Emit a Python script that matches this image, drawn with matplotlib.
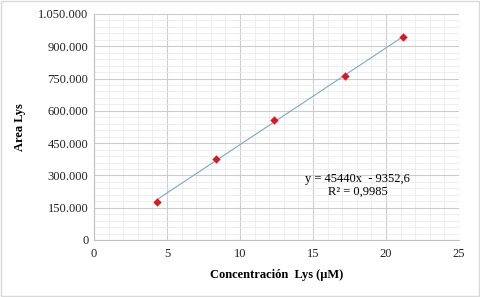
import matplotlib.pyplot as plt
import numpy as np
from matplotlib.ticker import MultipleLocator, FuncFormatter

# lectura de la figura
conc = [4.31, 8.35, 12.35, 17.2, 21.17]
area = [176500, 378000, 558000, 762000, 942000]

x_ticks = [0, 5, 10, 15, 20, 25]
y_ticks = [0, 150000, 300000, 450000, 600000, 750000, 900000, 1050000]
eq_text = "y = 45440x  - 9352,6\nR² = 0,9985"

plt.rcParams['font.family'] = ['Liberation Serif', 'DejaVu Serif']

fig = plt.figure(figsize=(4.8, 2.97), dpi=100)
ax = fig.add_axes([94 / 480, 1 - 240 / 297, 365 / 480, 226 / 297])

# trend line over the data range
coef = np.polyfit(conc, area, 1)
xs = np.array([min(conc), max(conc)])
ax.plot(xs, np.polyval(coef, xs), color='#7ea6d3', lw=0.8, zorder=2)
ax.scatter(conc, area, marker='D', s=18, color='#e3141c', zorder=3, linewidths=0)

ax.set_xlim(0, 25)
ax.set_ylim(0, 1050000)
ax.set_xticks(x_ticks)
ax.set_yticks(y_ticks)
ax.xaxis.set_minor_locator(MultipleLocator(1))
ax.yaxis.set_minor_locator(MultipleLocator(30000))
ax.yaxis.set_major_formatter(FuncFormatter(lambda v, p: f"{int(v):,}".replace(",", ".")))

ax.grid(which='major', color='#cccccc', lw=0.8)
ax.grid(which='minor', color='#ebebeb', lw=0.6)
ax.set_axisbelow(True)
for s in ['top', 'right']:
    ax.spines[s].set_visible(False)
for s in ['left', 'bottom']:
    ax.spines[s].set_color('#c0c0c0')
ax.tick_params(which='both', length=0, labelsize=9, colors='#222222', pad=4)
ax.tick_params(axis='x', pad=6)

ax.set_xlabel("Concentración  Lys (μM)", fontsize=9, fontweight='bold', labelpad=6.5)
ax.set_ylabel("Area Lys", fontsize=9, fontweight='bold', labelpad=8.5)

ax.text(0.723, 0.243, eq_text, transform=ax.transAxes, ha='center', va='center',
        fontsize=9, linespacing=1.1)

# outer border like excel chart
fig.patches.append(plt.Rectangle((0.002, 0.003), 0.996, 0.994, transform=fig.transFigure,
                                 fill=False, edgecolor='#d9d9d9', lw=1))

fig.savefig("out.png", dpi=100)
